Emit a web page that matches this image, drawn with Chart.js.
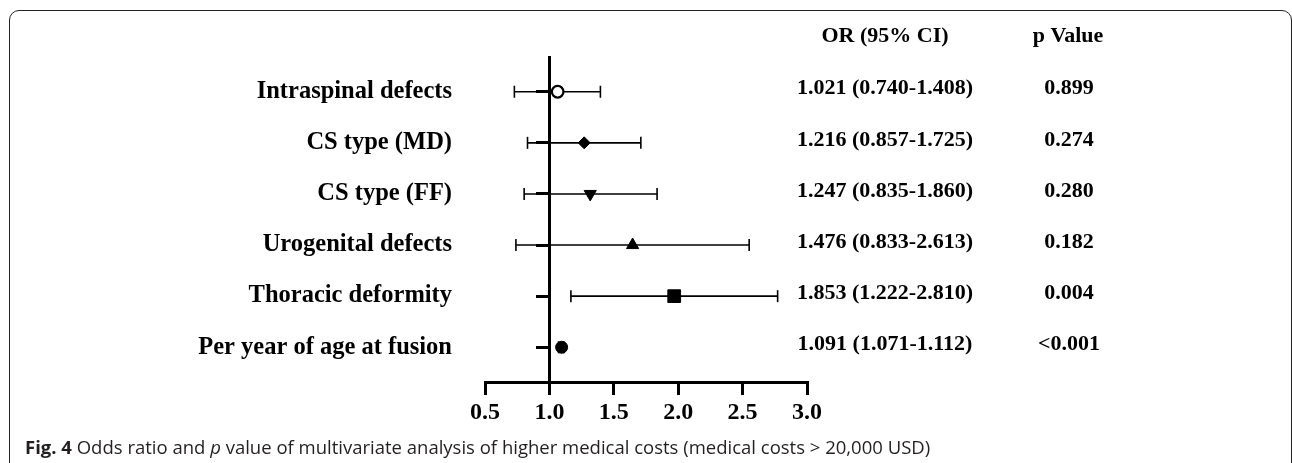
<!DOCTYPE html>
<html>
<head>
<meta charset="utf-8">
<script src="https://cdn.jsdelivr.net/npm/chart.js@4.4.1/dist/chart.umd.min.js"></script>
<style>
  body { margin: 0; background: #fff; overflow: hidden; }
  #wrap { position: relative; width: 1292px; height: 463px; }
  #frame { position: absolute; left: 9px; top: 10px; width: 1283px; height: 480px; box-sizing: border-box;
           border: 1.5px solid #222; border-radius: 10px; }
  #caption { position: absolute; left: 25px; top: 435px; font-family: 'Open Sans', sans-serif; font-size: 18.5px;
             line-height: 24px; color: #231f20; white-space: nowrap; }
  #caption b { font-weight: 700; }
</style>
</head>
<body>
<div id="wrap">
  <div id="frame"></div>
  <canvas id="MyChart"></canvas>
  <div id="caption"><b>Fig. 4</b> Odds ratio and <i>p</i> value of multivariate analysis of higher medical costs (medical costs &gt; 20,000 USD)</div>
</div>
<script>
// rows, top to bottom
const categories = ['Intraspinal defects', 'CS type (MD)', 'CS type (FF)', 'Urogenital defects', 'Thoracic deformity', 'Per year of age at fusion'];
// marker and whisker positions as drawn in the figure
const oddsRatio = [1.064, 1.270, 1.317, 1.646, 1.969, 1.095];
const ciLower = [0.728, 0.830, 0.804, 0.740, 1.167, 1.071];
const ciUpper = [1.396, 1.710, 1.836, 2.551, 2.772, 1.112];
// table columns
const headers = ['OR (95% CI)', 'p Value'];
const orLabels = ['1.021 (0.740-1.408)', '1.216 (0.857-1.725)', '1.247 (0.835-1.860)', '1.476 (0.833-2.613)', '1.853 (1.222-2.810)', '1.091 (1.071-1.112)'];
const pLabels = ['0.899', '0.274', '0.280', '0.182', '0.004', '<0.001'];
const xTicks = [0.5, 1.0, 1.5, 2.0, 2.5, 3.0];

// marker look per row
const markerStyles = [
  {style: 'circle', radius: 5.8, rotation: 0, fill: '#fff', width: 2.2},
  {style: 'rectRot', radius: 6, rotation: 0, fill: '#000', width: 1},
  {style: 'triangle', radius: 7, rotation: 180, fill: '#000', width: 1},
  {style: 'triangle', radius: 7, rotation: 0, fill: '#000', width: 1},
  {style: 'rect', radius: 9, rotation: 0, fill: '#000', width: 1},
  {style: 'circle', radius: 6, rotation: 0, fill: '#000', width: 1},
];

Chart.defaults.font.family = '"Liberation Serif", "Times New Roman", serif';
Chart.defaults.font.weight = 'bold';
Chart.defaults.color = '#000';

const rowTicks = (axis) => { axis.ticks = categories.map((c, i) => ({value: i})); };

const pointSets = categories.map((c, i) => ({
  label: c,
  data: [{x: oddsRatio[i], y: i}],
  pointStyle: markerStyles[i].style,
  pointRadius: markerStyles[i].radius,
  pointRotation: markerStyles[i].rotation,
  pointBackgroundColor: markerStyles[i].fill,
  pointBorderColor: '#000',
  pointBorderWidth: markerStyles[i].width,
  order: 0
}));

const ciSets = categories.map((c, i) => ({
  label: c + ' 95% CI',
  data: [{x: ciLower[i], y: i}, {x: ciUpper[i], y: i}],
  showLine: true,
  borderColor: '#000',
  borderWidth: 1.6,
  pointStyle: 'line',
  pointRotation: 90,
  pointRadius: 6,
  pointBorderColor: '#000',
  pointBorderWidth: 1.6,
  order: 1
}));

const tableText = {
  id: 'tableText',
  afterDraw(chart) {
    const ctx = chart.ctx;
    const y = chart.scales.y;
    ctx.save();
    ctx.fillStyle = '#000';
    ctx.textAlign = 'center';
    ctx.textBaseline = 'middle';
    ctx.font = 'bold 22px "Liberation Serif"';
    ctx.fillText(headers[0], 885, 36);
    ctx.fillText(headers[1], 1068, 36);
    orLabels.forEach((t, i) => {
      const py = y.getPixelForValue(i) - 3;
      ctx.fillText(t, 885, py);
      ctx.fillText(pLabels[i], 1069, py);
    });
    ctx.restore();
  }
};

const ctx = document.getElementById('MyChart').getContext('2d');
new Chart(ctx, {
  type: 'scatter',
  data: {datasets: pointSets.concat(ciSets)},
  options: {
    responsive: true,
    maintainAspectRatio: false,
    animation: false,
    events: [],
    layout: {padding: {top: 57, right: 485, bottom: 0, left: 0}},
    plugins: {legend: {display: false}, tooltip: {enabled: false}},
    scales: {
      x: {
        type: 'linear',
        position: 'bottom',
        min: 0.5,
        max: 3.0,
        afterBuildTicks: (axis) => { axis.ticks = xTicks.map(v => ({value: v})); },
        afterFit: (axis) => { axis.height = 81; },
        ticks: {
          font: {size: 24, weight: 'bold'},
          padding: 3,
          maxRotation: 0,
          autoSkip: false,
          callback: (v) => Number(v).toFixed(1)
        },
        grid: {display: true, drawOnChartArea: false, drawTicks: true, tickLength: 13, lineWidth: 3, color: '#000'},
        border: {display: true, width: 3, color: '#000'}
      },
      y: {
        type: 'linear',
        position: 'left',
        min: -0.68,
        max: 5.68,
        reverse: true,
        afterBuildTicks: rowTicks,
        afterFit: (axis) => { axis.width = 485; },
        ticks: {
          font: {size: 24.5, weight: 'bold'},
          padding: 33,
          autoSkip: false,
          callback: (v) => categories[v]
        },
        grid: {display: false, drawTicks: false},
        border: {display: false}
      },
      y2: {
        type: 'linear',
        axis: 'y',
        position: {x: 1.0},
        min: -0.68,
        max: 5.68,
        reverse: true,
        afterBuildTicks: rowTicks,
        ticks: {display: false},
        grid: {display: true, drawOnChartArea: false, drawTicks: true, tickLength: 12, lineWidth: 3, color: '#000'},
        border: {display: true, width: 3, color: '#000'}
      }
    }
  },
  plugins: [tableText]
});
</script>
</body>
</html>
